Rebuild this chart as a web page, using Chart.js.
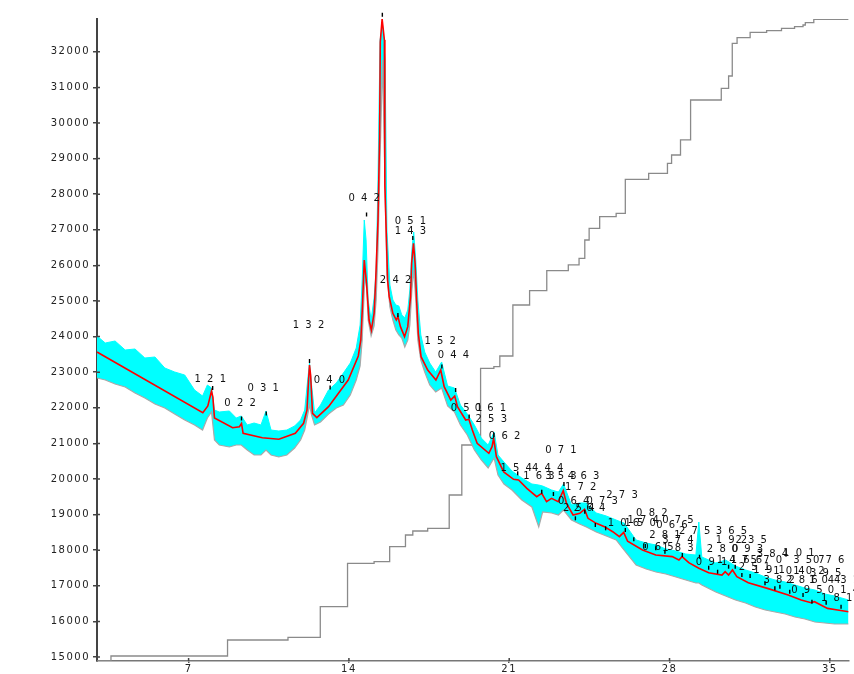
<!DOCTYPE html>
<html>
<head>
<meta charset="utf-8">
<script src="https://cdn.jsdelivr.net/npm/chart.js@4.4.1/dist/chart.umd.min.js"></script>
<style>
  body { margin: 0; background: #fff; }
</style>
</head>
<body>
<canvas id="xrd" width="854" height="674"></canvas>
<script>
// axis ranges (2-theta / counts)
const xMin = 3.0, xMax = 35.82;
const yMin = 14888, yMax = 32921;
const xTicks = [7, 14, 21, 28, 35];
const yTicks = [15000, 16000, 17000, 18000, 19000, 20000, 21000, 22000, 23000,
                24000, 25000, 26000, 27000, 28000, 29000, 30000, 31000, 32000];

// observed pattern: upper and lower edge of the noisy band
const obsX = [3.00, 3.36, 3.79, 4.23, 4.66, 5.09, 5.53, 5.96, 6.39, 6.83,
              7.26, 7.61, 7.82, 8.00, 8.13, 8.34, 8.78, 9.08, 9.30, 9.56,
              9.86, 10.16, 10.38, 10.60, 10.94, 11.29, 11.63, 11.89, 12.07, 12.20,
              12.28, 12.37, 12.50, 12.76, 13.11, 13.45, 13.76, 14.06, 14.32, 14.49,
              14.58, 14.67, 14.75, 14.84, 14.97, 15.10, 15.19, 15.27, 15.36, 15.47,
              15.58, 15.66, 15.79, 15.92, 16.05, 16.18, 16.31, 16.44, 16.57, 16.66,
              16.75, 16.83, 16.92, 17.01, 17.14, 17.31, 17.53, 17.79, 18.05, 18.31,
              18.61, 18.87, 19.17, 19.48, 19.78, 20.08, 20.34, 20.51, 20.77, 21.12,
              21.55, 21.99, 22.29, 22.46, 22.85, 23.15, 23.37, 23.72, 24.07, 24.37,
              24.80, 25.24, 25.67, 26.02, 26.54, 26.98, 27.41, 27.84, 28.28, 28.71,
              29.15, 29.28, 29.41, 30.02, 30.45, 30.88, 31.32, 31.75, 32.18, 32.61,
              33.05, 33.48, 33.91, 34.35, 34.78, 35.21, 35.82];
const obsHigh = [24017, 23820, 23876, 23624, 23652, 23399, 23427, 23118, 23006, 22921,
                 22500, 22331, 22640, 22556, 21938, 21882, 21910, 21714, 21770, 21517,
                 21573, 21517, 21910, 21376, 21348, 21376, 21489, 21657, 21938, 22781,
                 23258, 22640, 21854, 22079, 22500, 22697, 22978, 23258, 23680, 24326,
                 25590, 27275, 26714, 25028, 24466, 25084, 25871, 28399, 32332, 32753,
                 31770, 26994, 25449, 25028, 24888, 24860, 24607, 24523, 24747, 25309,
                 26433, 26938, 26152, 25028, 24045, 23567, 23258, 23006, 23287, 22612,
                 22556, 22079, 21826, 21517, 21152, 20955, 21320, 20674, 20478, 20225,
                 20028, 19860, 19831, 19803, 19691, 19635, 19860, 19270, 19326, 19326,
                 19045, 18961, 18848, 18760, 18287, 18202, 18146, 18034, 17978, 17893,
                 17865, 18792, 17809, 17640, 17725, 17556, 17444, 17360, 17247, 17163,
                 17107, 17022, 16938, 16882, 16770, 16713, 16601];
const obsLow = [22837, 22781, 22669, 22584, 22416, 22275, 22107, 21994, 21826, 21657,
                21517, 21376, 21714, 21882, 21096, 20955, 20899, 20955, 20955, 20815,
                20674, 20674, 20815, 20674, 20618, 20674, 20871, 21096, 21376, 21798,
                22079, 21798, 21517, 21601, 21826, 21994, 22079, 22360, 22781, 23174,
                23905, 25309, 25730, 24466, 24017, 24298, 25028, 26433, 28961, 31770,
                28118, 25730, 24832, 24466, 24185, 24045, 23961, 23708, 23905, 24326,
                25309, 25871, 25028, 23905, 23343, 23006, 22640, 22444, 22556, 22051,
                21882, 21517, 21236, 20815, 20534, 20309, 20590, 20112, 19860, 19691,
                19410, 19214, 18652, 19073, 19045, 18989, 19129, 18848, 18736, 18652,
                18511, 18399, 18287, 18000, 17584, 17472, 17388, 17331, 17247, 17163,
                17079, 17079, 17022, 16826, 16713, 16601, 16517, 16405, 16320, 16264,
                16208, 16124, 16067, 15983, 15955, 15927, 15927];

// calculated profile
const calcX = [3.00, 7.62, 7.84, 8.00, 8.06, 8.13, 8.92, 9.22, 9.31, 9.38,
               10.22, 10.94, 11.66, 12.02, 12.17, 12.24, 12.28, 12.33, 12.41, 12.60,
               13.11, 13.97, 14.41, 14.52, 14.59, 14.67, 14.77, 14.88, 14.98, 15.10,
               15.17, 15.27, 15.34, 15.37, 15.45, 15.55, 15.57, 15.69, 15.76, 15.92,
               16.07, 16.14, 16.25, 16.43, 16.57, 16.69, 16.74, 16.82, 16.89, 16.97,
               17.03, 17.15, 17.44, 17.80, 18.01, 18.16, 18.45, 18.62, 18.74, 19.10,
               19.24, 19.39, 19.60, 20.11, 20.25, 20.32, 20.44, 20.76, 21.19, 21.41,
               21.77, 22.20, 22.42, 22.63, 22.85, 23.14, 23.36, 23.50, 23.79, 24.08,
               24.29, 24.44, 24.80, 25.16, 25.52, 25.81, 26.00, 26.17, 26.82, 27.40,
               28.12, 28.41, 28.55, 28.84, 29.28, 29.71, 30.29, 30.43, 30.58, 30.75,
               30.94, 31.44, 32.31, 33.18, 33.75, 34.18, 34.33, 34.90, 35.34, 35.82];
const calcY = [23567, 21862, 22051, 22470, 22300, 21713, 21441, 21470, 21560, 21284,
               21160, 21115, 21284, 21565, 21939, 22800, 23202, 22900, 21845, 21723,
               22033, 22781, 23456, 23905, 24840, 26152, 25495, 24466, 24185, 24654,
               25590, 27276, 29600, 32276, 32921, 32332, 28258, 25590, 25121, 24654,
               24466, 24560, 24279, 23998, 24279, 25121, 26059, 26621, 26059, 24840,
               24093, 23435, 23062, 22781, 23062, 22594, 22219, 22332, 22032, 21657,
               21676, 21376, 21003, 20722, 20909, 21143, 20628, 20200, 19991, 19972,
               19738, 19503, 19598, 19362, 19457, 19362, 19672, 19315, 18989, 19035,
               19148, 18896, 18755, 18661, 18520, 18380, 18500, 18250, 18006, 17866,
               17819, 17725, 17819, 17650, 17492, 17369, 17303, 17396, 17303, 17444,
               17256, 17088, 16921, 16742, 16601, 16525, 16554, 16366, 16320, 16273];

// cumulative step curve
const stepX = [3.00, 3.61, 8.70, 11.34, 12.75, 13.94, 15.10, 15.78, 16.47, 16.79,
               17.44, 18.38, 18.93, 19.75, 20.33, 20.59, 21.16, 21.89, 22.64, 23.58,
               24.05, 24.30, 24.49, 24.95, 25.67, 26.07, 27.09, 27.91, 28.09, 28.48,
               28.92, 30.26, 30.58, 30.74, 30.95, 31.52, 32.24, 32.89, 33.46, 33.83,
               33.93, 34.30, 35.82];
const stepY = [14888, 15028, 15478, 15553, 16413, 17632, 17677, 18098, 18427, 18539,
               18615, 19551, 20955, 23110, 23155, 23455, 24888, 25290, 25851, 26012,
               26199, 26714, 27042, 27369, 27463, 28418, 28587, 28868, 29101, 29523,
               30646, 30975, 31320, 32239, 32396, 32548, 32593, 32660, 32705, 32753,
               32817, 32913, 32913];

// reflection markers
const braggX = [8.05, 9.31, 10.39, 12.28, 13.18, 14.77, 15.46, 16.14, 16.79, 18.06,
                18.66, 19.25, 20.33, 21.37, 22.42, 22.93, 23.39, 23.89, 24.30, 24.76,
                25.21, 26.07, 26.44, 26.94, 27.40, 27.80, 28.56, 29.31, 29.71, 30.10,
                30.58, 30.87, 31.16, 31.52, 32.17, 32.60, 32.82, 33.25, 33.83, 34.22,
                34.84, 35.49];
const braggY = [22557, 21700, 21840, 23315, 22570, 27430, 33040, 24607, 26770, 23160,
                22500, 21756, 21236, 20160, 19643, 19579, 19860, 18896, 19081, 18708,
                18615, 18567, 18306, 18118, 18053, 17958, 17865, 17817, 17508, 17396,
                17537, 17537, 17303, 17275, 17070, 16930, 16975, 16834, 16742, 16553,
                16525, 16413];

// hkl labels
const hklText = ['1 2 1', '0 2 2', '0 3 1', '1 3 2', '0 4 0', '0 4 2', '2 4 2', '0 5 1', '1 4 3',
                 '1 5 2', '0 4 4', '0 5 1', '0 6 1', '2 5 3', '0 6 2', '0 7 1', '1 5 4', '4 4 4',
                 '1 6 3', '3 5 3', '4 6 3', '1 7 2', '2 7 3', '0 6 4', '0 7 3', '2 5 4', '2 6 4',
                 '0 8 2', '1 7 4', '0 7 5', '1 0 6', '1 5 0', '0 6 6', '2 7 5', '3 6 5',
                 '2 8 1', '3 7 4', '1 9 2', '2 3 5', '0 6 5', '1 8 3', '2 8 0', '0 9 3',
                 '3 8 4', '1 0 1', '1 4 7', '1 6 6', '5 7 0', '3 5 7', '0 7 6', '0 9 1',
                 '2 5 1', '1 9 1', '1 0 4', '1 0 2', '3 9 5', '3 8 2', '2 8 6', '1 0 4',
                 '4 3 1', '0 9 5', '0 1 4', '1 8 1'];
const hklX = [7.98, 9.28, 10.29, 12.27, 13.18, 14.70, 16.07, 16.72, 16.72,
              18.02, 18.60, 19.17, 20.21, 20.25, 20.83, 23.29, 21.34, 22.71,
              22.33, 23.29, 24.28, 24.15, 25.96, 23.85, 25.09, 24.07, 24.54,
              27.26, 26.88, 28.40, 26.02, 26.75, 28.14, 29.13, 30.74,
              27.83, 28.40, 30.74, 31.60, 27.53, 28.40, 30.35, 31.43,
              32.53, 33.68, 30.78, 31.39, 32.26, 34.12, 34.98, 29.87,
              31.74, 32.38, 33.25, 34.12, 34.85, 32.82, 33.81, 34.81,
              35.63, 34.03, 35.63, 35.33];
const hklY = [22801, 22127, 22548, 24306, 22781, 27885, 25570, 27228, 26967,
              23857, 23483, 21986, 21986, 21685, 21208, 20815, 20301, 20301,
              20065, 20065, 20065, 19775, 19551, 19362, 19362, 19185, 19166,
              19037, 18848, 18848, 18756, 18756, 18688, 18539, 18539,
              18427, 18287, 18287, 18287, 18090, 18062, 18025, 18025,
              17893, 17921, 17725, 17725, 17725, 17725, 17725, 17649,
              17528, 17444, 17416, 17416, 17360, 17143, 17143, 17143,
              17143, 16862, 16862, 16649];

const pts = (xs, ys) => xs.map((x, i) => ({ x: x, y: ys[i] }));
const FONT = 'DejaVu Sans';

// wide lettering like the original plot
const spacing = {
    id: 'spacing',
    beforeDraw(chart) { chart.ctx.letterSpacing = '1.5px'; }
};

// tick marks that cross the axis lines
const innerTicks = {
    id: 'innerTicks',
    afterDraw(chart) {
        const { ctx, chartArea, scales } = chart;
        ctx.save();
        ctx.strokeStyle = '#444';
        ctx.lineWidth = 1.5;
        ctx.beginPath();
        yTicks.forEach(v => {
            const p = scales.y.getPixelForValue(v);
            ctx.moveTo(chartArea.left, p);
            ctx.lineTo(chartArea.left + 3, p);
        });
        xTicks.forEach(v => {
            const p = scales.x.getPixelForValue(v);
            ctx.moveTo(p, chartArea.bottom);
            ctx.lineTo(p, chartArea.bottom - 3);
        });
        ctx.stroke();
        ctx.restore();
    }
};

const hklLabels = {
    id: 'hklLabels',
    afterDatasetsDraw(chart) {
        const { ctx, scales } = chart;
        ctx.save();
        ctx.font = '10px "' + FONT + '"';
        ctx.fillStyle = '#111';
        ctx.textAlign = 'center';
        ctx.textBaseline = 'middle';
        hklText.forEach((t, i) => {
            ctx.fillText(t, scales.x.getPixelForValue(hklX[i]), scales.y.getPixelForValue(hklY[i]));
        });
        ctx.restore();
    }
};

new Chart(document.getElementById('xrd'), {
    type: 'line',
    data: {
        datasets: [
            {
                type: 'scatter', label: 'reflections', data: pts(braggX, braggY),
                pointStyle: 'line', rotation: 90, pointRadius: 2, borderColor: '#000',
                borderWidth: 1.4, showLine: false, clip: false, order: 0
            },
            {
                label: 'calculated', data: pts(calcX, calcY), borderColor: '#ff0000',
                borderWidth: 1.6, pointRadius: 0, tension: 0, order: 1
            },
            {
                label: 'observed high', data: pts(obsX, obsHigh), borderColor: '#00ffff',
                borderWidth: 1, pointRadius: 0, fill: '+1', backgroundColor: '#00ffff', order: 3
            },
            {
                label: 'observed low', data: pts(obsX, obsLow), borderColor: '#a9a9a9',
                borderWidth: 1.2, pointRadius: 0, fill: false, order: 2
            },
            {
                label: 'cumulative', data: pts(stepX, stepY), borderColor: '#8a8a8a',
                borderWidth: 1.3, pointRadius: 0, stepped: true, order: 4
            }
        ]
    },
    options: {
        animation: false,
        responsive: false,
        events: [],
        layout: { padding: { top: 19, right: 0, bottom: 0, left: 0 } },
        plugins: { legend: { display: false }, tooltip: { enabled: false } },
        scales: {
            x: {
                type: 'linear', min: xMin, max: xMax,
                afterBuildTicks: s => { s.ticks = xTicks.map(v => ({ value: v })); },
                afterFit: s => { s.height = 13; },
                grid: { drawOnChartArea: false, tickLength: 2, color: '#555', lineWidth: 1.5 },
                border: { color: '#777', width: 1.5 },
                ticks: {
                    color: '#222', font: { family: FONT, size: 10 }, padding: 0,
                    maxRotation: 0, autoSkip: false, callback: v => String(v)
                }
            },
            y: {
                min: yMin, max: yMax,
                afterBuildTicks: s => { s.ticks = yTicks.map(v => ({ value: v })); },
                afterFit: s => { s.width = 97; },
                grid: { drawOnChartArea: false, tickLength: 4, color: '#444', lineWidth: 1.5 },
                border: { color: '#444', width: 2 },
                ticks: {
                    color: '#222', font: { family: FONT, size: 10 }, padding: 3,
                    autoSkip: false, callback: v => String(v)
                }
            }
        }
    },
    plugins: [spacing, innerTicks, hklLabels]
});
</script>
</body>
</html>
